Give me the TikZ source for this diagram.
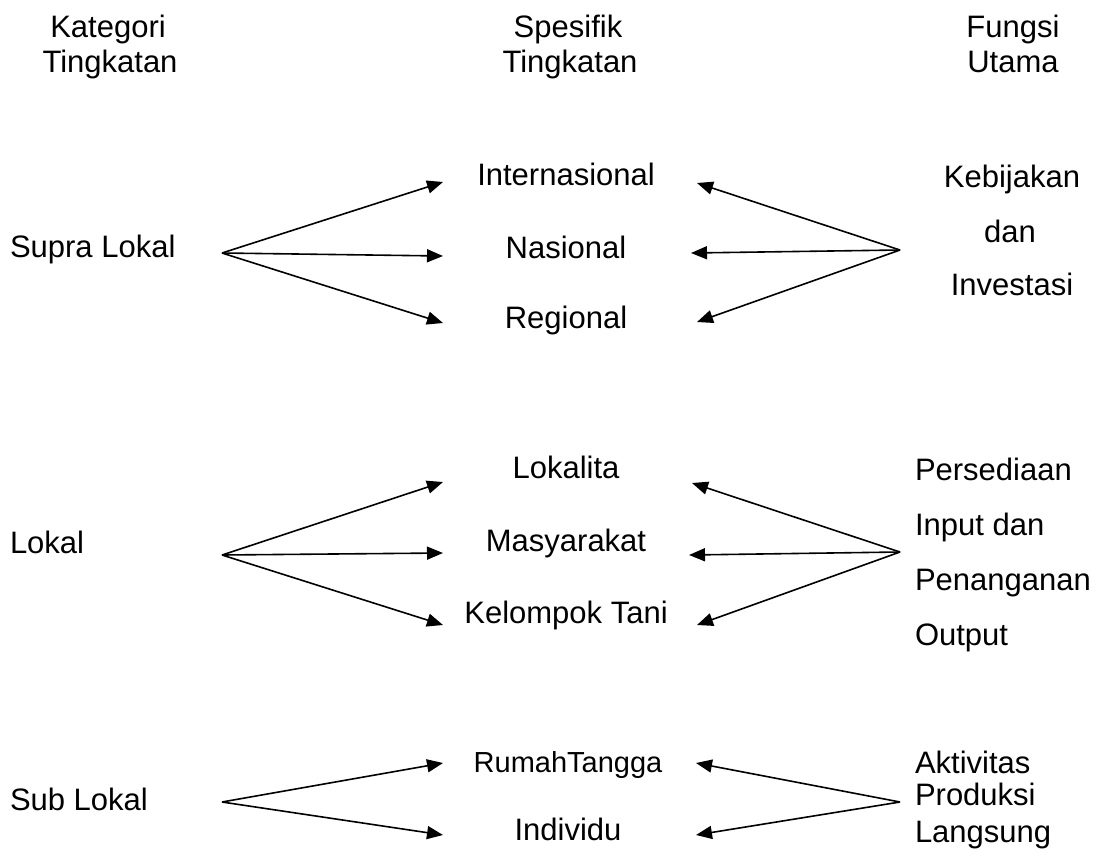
\documentclass[tikz,border=0pt]{standalone}
\usepackage{fontspec}
\setmainfont{Liberation Sans}
\usetikzlibrary{arrows.meta}
\tikzset{
  lbl/.style={font=\fontsize{31}{37}\selectfont, inner sep=0pt, outer sep=0pt},
  ctr/.style={lbl, anchor=base},
  lft/.style={lbl, anchor=base west},
  conn/.style={line width=1.6pt, -{Triangle[length=16pt,width=13pt]}, line join=round}
}
\begin{document}
\begin{tikzpicture}[x=1pt,y=-1pt]
\useasboundingbox[fill=white] (0,0) rectangle (1104,852);
% headers
\node[ctr] (h1a) at (108,37) {Kategori};
\node[ctr] (h1b) at (110,72) {Tingkatan};
\node[ctr] (h2a) at (568,37) {Spesifik};
\node[ctr] (h2b) at (570,72) {Tingkatan};
\node[ctr] (h3a) at (1013,37) {Fungsi};
\node[ctr] (h3b) at (1013,72) {Utama};
% block 1
\node[lft] (supra) at (10,257) {Supra Lokal};
\node[ctr] (intl) at (566,185) {Internasional};
\node[ctr] (nas) at (566,258) {Nasional};
\node[ctr] (reg) at (566,328) {Regional};
\node[ctr] (keb) at (1012,187) {Kebijakan};
\node[ctr] (dan) at (1010,242) {dan};
\node[ctr] (inv) at (1012,295) {Investasi};
\coordinate (L1) at (222,253);
\coordinate (R1) at (900,250);
\coordinate (t1a) at (443,182);
\coordinate (t1b) at (443,256);
\coordinate (t1c) at (443,323);
\coordinate (u1a) at (697,183);
\coordinate (u1b) at (691,253);
\coordinate (u1c) at (697,322);
\draw[conn] (L1) -- (t1a);
\draw[conn] (L1) -- (t1b);
\draw[conn] (L1) -- (t1c);
\draw[conn] (R1) -- (u1a);
\draw[conn] (R1) -- (u1b);
\draw[conn] (R1) -- (u1c);
% block 2
\node[lft] (lok) at (10,553) {Lokal};
\node[ctr] (lokalita) at (566,478) {Lokalita};
\node[ctr] (masy) at (566,551) {Masyarakat};
\node[ctr] (kel) at (566,623) {Kelompok Tani};
\node[lft] (pers) at (915,480) {Persediaan};
\node[lft] (inp) at (915,535) {Input dan};
\node[lft] (pen) at (915,590) {Penanganan};
\node[lft] (out) at (915,645) {Output};
\coordinate (L2) at (222,555);
\coordinate (R2) at (900,552);
\coordinate (t2a) at (443,482);
\coordinate (t2b) at (443,553);
\coordinate (t2c) at (443,625);
\coordinate (u2a) at (692,483);
\coordinate (u2b) at (689,555);
\coordinate (u2c) at (697,625);
\draw[conn] (L2) -- (t2a);
\draw[conn] (L2) -- (t2b);
\draw[conn] (L2) -- (t2c);
\draw[conn] (R2) -- (u2a);
\draw[conn] (R2) -- (u2b);
\draw[conn] (R2) -- (u2c);
% block 3
\node[lft] (sub) at (10,810) {Sub Lokal};
\node[ctr,font=\fontsize{29}{35}\selectfont] (rt) at (568,772) {RumahTangga};
\node[ctr] (ind) at (568,840) {Individu};
\node[lft] (akt) at (915,773) {Aktivitas};
\node[lft] (prod) at (915,805) {Produksi};
\node[lft] (lang) at (915,842) {Langsung};
\coordinate (L3) at (222,802);
\coordinate (R3) at (900,802);
\coordinate (t3a) at (443,763);
\coordinate (t3b) at (443,835);
\coordinate (u3a) at (696,763);
\coordinate (u3b) at (696,835);
\draw[conn] (L3) -- (t3a);
\draw[conn] (L3) -- (t3b);
\draw[conn] (R3) -- (u3a);
\draw[conn] (R3) -- (u3b);
\end{tikzpicture}
\end{document}
